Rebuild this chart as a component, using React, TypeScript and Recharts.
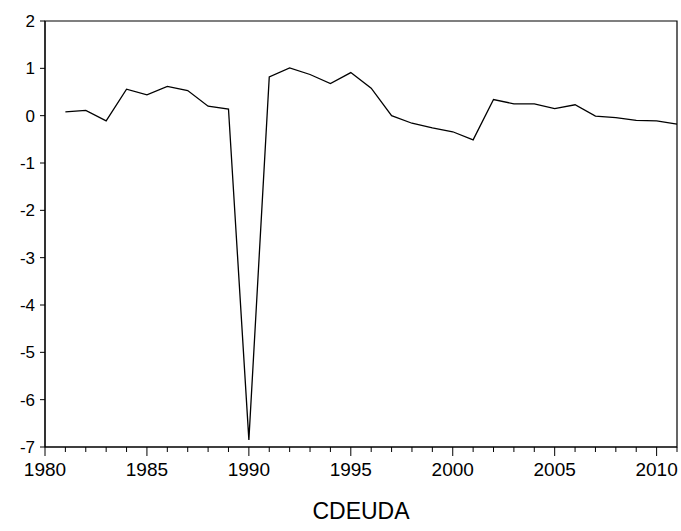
import { LineChart, Line, XAxis, YAxis, ReferenceArea } from "recharts";

const years = [
  1981, 1982, 1983, 1984, 1985, 1986, 1987, 1988, 1989, 1990, 1991, 1992, 1993, 1994, 1995, 1996,
  1997, 1998, 1999, 2000, 2001, 2002, 2003, 2004, 2005, 2006, 2007, 2008, 2009, 2010, 2011,
];
const cdeuda = [
  0.08, 0.11, -0.11, 0.56, 0.44, 0.62, 0.53, 0.2, 0.14, -6.85, 0.82, 1.01, 0.87, 0.68, 0.91, 0.58,
  0.0, -0.16, -0.26, -0.34, -0.51, 0.34, 0.25, 0.25, 0.15, 0.23, -0.01, -0.04, -0.1, -0.11, -0.18,
];
const yTicks = [-7, -6, -5, -4, -3, -2, -1, 0, 1, 2];
const xTicks = Array.from({ length: 32 }, (_, i) => 1980 + i);

const data = years.map((year, i) => ({ year, value: cdeuda[i] }));

const FONT = '"Liberation Sans", Arial, sans-serif';

function YearTick(props: any) {
  const { x, y, payload } = props;
  const major = payload.value % 5 === 0;
  return (
    <g>
      <line x1={x} x2={x} y1={y} y2={y + (major ? 9 : 5)} stroke="#000" strokeWidth={1} />
      {major && (
        <text x={x} y={y + 29} textAnchor="middle" fontSize={19} fill="#000" fontFamily={FONT}>
          {payload.value}
        </text>
      )}
    </g>
  );
}

export default function App() {
  return (
    <div style={{ position: "absolute", left: 0, top: 0, width: 681, height: 531, background: "#fff" }}>
      <LineChart width={681} height={531} data={data} margin={{ top: 21, right: 4, left: 0, bottom: 0 }}>
        <XAxis
          dataKey="year"
          type="number"
          domain={[1980, 2011]}
          ticks={xTicks}
          interval={0}
          height={84}
          tickSize={0}
          tickMargin={0}
          tickLine={false}
          axisLine={{ stroke: "#000" }}
          tick={<YearTick />}
        />
        <YAxis
          type="number"
          domain={[-7, 2]}
          ticks={yTicks}
          interval={0}
          width={45}
          tickSize={5}
          tickMargin={5}
          axisLine={{ stroke: "#000" }}
          tickLine={{ stroke: "#000" }}
          tick={{ fill: "#000", fontSize: 17, fontFamily: FONT }}
        />
        <ReferenceArea x1={1980} x2={2011} y1={-7} y2={2} fill="none" stroke="#000" strokeWidth={1.2} />
        <Line
          dataKey="value"
          type="linear"
          stroke="#000"
          strokeWidth={1.3}
          dot={false}
          isAnimationActive={false}
        />
      </LineChart>
      <div
        style={{
          position: "absolute",
          left: 45,
          width: 632,
          top: 498,
          textAlign: "center",
          fontFamily: FONT,
          fontSize: 23,
          color: "#000",
        }}
      >
        CDEUDA
      </div>
    </div>
  );
}
